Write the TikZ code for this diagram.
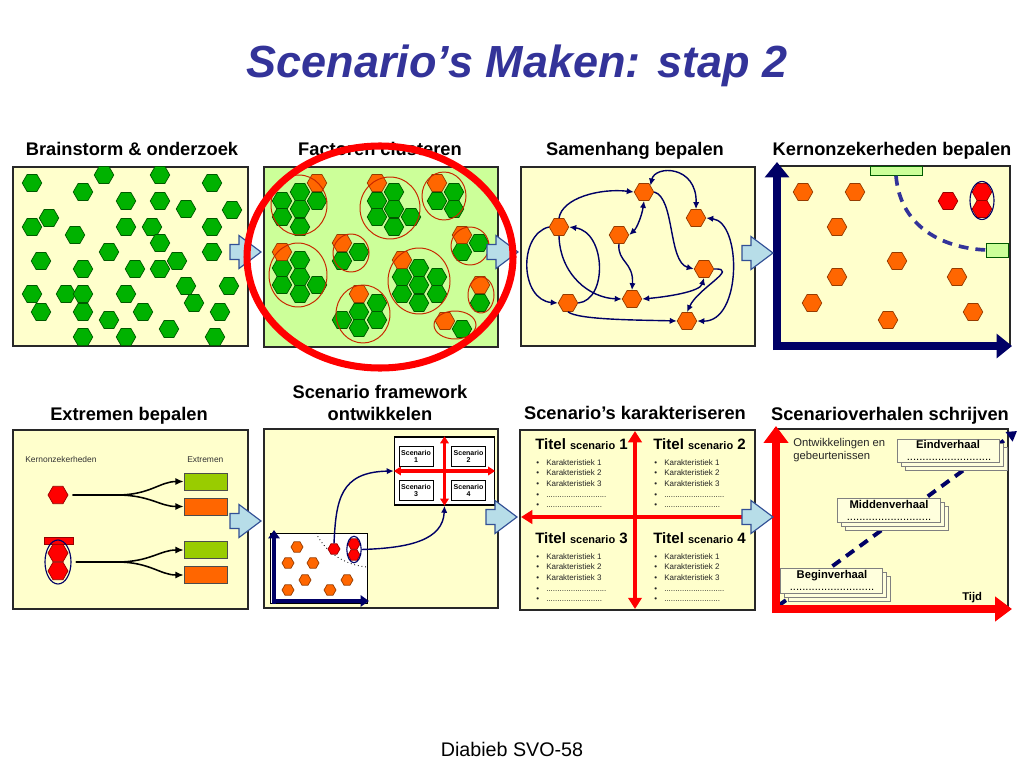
\documentclass[tikz,border=0pt]{standalone}
\usepackage{fontspec}
\setmainfont{Liberation Sans}
\usetikzlibrary{shapes.geometric,arrows.meta}

\definecolor{titleblue}{RGB}{51,51,153}
\definecolor{paneyellow}{RGB}{255,255,204}
\definecolor{panegreen}{RGB}{204,255,153}
\definecolor{panelline}{RGB}{40,40,40}
\definecolor{hexgreen}{RGB}{0,178,0}
\definecolor{hexgreenline}{RGB}{0,90,0}
\definecolor{hexorange}{RGB}{255,102,0}
\definecolor{hexorangeline}{RGB}{150,60,0}
\definecolor{hexredline}{RGB}{150,0,0}
\definecolor{axnavy}{RGB}{0,0,102}
\definecolor{slateblue}{RGB}{51,51,153}
\definecolor{clusred}{RGB}{200,40,0}
\definecolor{extgreen}{RGB}{153,204,0}
\definecolor{arrowfill}{RGB}{183,221,232}
\definecolor{arrowline}{RGB}{50,80,150}
\definecolor{stackfill}{RGB}{255,255,221}

\tikzset{
  hexa/.style={regular polygon, regular polygon sides=6, minimum size=0.49cm, inner sep=0pt, line width=0.5pt},
  hexg/.style={hexa, fill=hexgreen, draw=hexgreenline},
  hexo/.style={hexa, fill=hexorange, draw=hexorangeline},
  hexr/.style={hexa, fill=red, draw=hexredline},
  hexs/.style={minimum size=0.3cm},
  panel/.style={draw=panelline, line width=1pt},
  ptitle/.style={font=\fontsize{13}{15}\selectfont\bfseries, inner sep=0pt},
  clus/.style={draw=clusred, line width=0.7pt},
  link/.style={draw=axnavy, line width=1pt, -{Latex[length=5pt,width=4.5pt]}},
  link2/.style={draw=axnavy, line width=1pt, {Latex[length=5pt,width=4.5pt]}-{Latex[length=5pt,width=4.5pt]}},
  fork/.style={draw=black, line width=1.1pt, shorten <=3pt, -{Latex[length=6pt,width=5pt]}},
  bignavy/.style={draw=axnavy, line width=5.7pt, -{Triangle[length=11pt,width=17pt]}},
  bigred/.style={draw=red, line width=5pt, -{Triangle[length=12pt,width=17pt]}},
  redcross/.style={draw=red, line width=3.3pt, {Triangle[length=8pt,width=9.5pt]}-{Triangle[length=8pt,width=9.5pt]}},
  barrow/.style={draw=arrowline, fill=arrowfill, line width=0.8pt},
  extbox/.style={minimum width=1.075cm, minimum height=0.425cm, inner sep=0pt, draw=gray!60!black, line width=0.3pt},
  small/.style={font=\fontsize{6}{7}\selectfont, inner sep=0pt, text=black!80},
  scen/.style={draw=black, fill=white, line width=0.5pt, minimum width=0.85cm, minimum height=0.5cm, inner sep=0pt, align=center, font=\fontsize{5}{5.6}\selectfont\bfseries},
  titel/.style={font=\fontsize{10.7}{12}\selectfont\bfseries, inner sep=0pt},
  kar/.style={font=\fontsize{5.7}{7}\selectfont, inner sep=0pt, text=black!85},
  verhaal/.style={font=\fontsize{8}{9.5}\selectfont, inner sep=0pt},
}

% blokpijl tussen de panelen
\newcommand{\blockarrow}[2]{%
  \draw[barrow] (#1,#2-7.5) -- (#1+9,#2-7.5) -- (#1+9,#2-16.5) -- (#1+31,#2) -- (#1+9,#2+16.5) -- (#1+9,#2+7.5) -- (#1,#2+7.5) -- cycle;}
% gestapelde verhaalkaart
\newcommand{\stackbox}[4]{%
  \foreach \d in {8,4,0}{\draw[draw=gray, fill=stackfill, line width=0.5pt] (#1+\d,#2+\d) rectangle (#3+\d,#4+\d);}}
% stippellijnen
\newcommand{\puntlang}{...........................}
\newcommand{\puntkort}{.........................}

\begin{document}
\begin{tikzpicture}[x=0.025cm, y=-0.025cm]
\useasboundingbox[fill=white] (0,0) rectangle (1024,768);

% titel
\node[anchor=base, text=titleblue, font=\fontsize{32}{36}\selectfont\bfseries\itshape, inner sep=0pt] (kop) at (517,78) {Scenario’s Maken: stap 2};
\node[anchor=base, font=\fontsize{14}{16}\selectfont, inner sep=0pt] (voet) at (512,756) {Diabieb SVO-58};

% ---------- rij 1 ----------
\node[ptitle, anchor=base] (t1) at (132,156) {Brainstorm \& onderzoek};
\node[ptitle, anchor=base] (t2) at (380,156) {Factoren clusteren};
\node[ptitle, anchor=base] (t3) at (635,156) {Samenhang bepalen};
\node[ptitle, anchor=base] (t4) at (892,156) {Kernonzekerheden bepalen};

% paneel 1 : brainstorm
\draw[panel, fill=paneyellow] (13,167) rectangle (248,346);
\foreach \p [count=\i] in {(32,183),(104,175),(160,175),(212,183),(83,192),(126,201),(160,201),(186,209),(232,210),
  (49,218),(32,227),(75,235),(126,227),(152,227),(212,227),(160,243),(109,252),(212,252),(41,261),(83,269),
  (135,269),(160,269),(177,261),(186,286),(229,286),(32,294),(66,294),(83,294),(126,294),(41,312),(83,312),
  (143,312),(194,303),(109,320),(220,312),(169,329),(83,337),(126,337),(215,337)}
  \node[hexg] (b\i) at \p {};

% paneel 2 : clusters
\draw[panel, fill=panegreen] (264,167) rectangle (498,347);
\foreach \p [count=\i] in {(282,201),(300,192),(317,201),(282,217),(300,209),(300,227),
  (394,192),(377,201),(394,209),(377,217),(411,217),(394,227),
  (454,192),(437,201),(454,209),
  (479,243),(462,252),
  (300,260),(282,268),(300,277),(282,285),(317,285),(300,294),
  (359,252),(342,261),
  (419,268),(402,277),(437,277),(419,285),(402,294),(437,294),(419,303),
  (377,303),(359,312),(342,320),(377,320),(359,328),
  (480,303),(462,329)}
  \node[hexg] (cg\i) at \p {};
\foreach \p [count=\i] in {(317,183),(377,183),(437,183),(462,235),(282,252),(342,243),(402,260),(359,294),(480,285),(445,321)}
  \node[hexo] (co\i) at \p {};
\draw[clus] (299,205) ellipse [x radius=28, y radius=30];
\draw[clus] (390,208) ellipse [x radius=30, y radius=31];
\draw[clus] (444,196) ellipse [x radius=22, y radius=24];
\draw[clus] (470,246) ellipse [x radius=19, y radius=19];
\draw[clus] (298,275) ellipse [x radius=29, y radius=32];
\draw[clus] (351,253) ellipse [x radius=18, y radius=19];
\draw[clus] (419,281) ellipse [x radius=31, y radius=33];
\draw[clus] (363,314) ellipse [x radius=27, y radius=29];
\draw[clus] (481,295) ellipse [x radius=13, y radius=18];
\draw[clus] (455,325) ellipse [x radius=21, y radius=14];

% paneel 3 : samenhang
\draw[panel, fill=paneyellow] (521,167) rectangle (755,346);
\node[hexo] (f1) at (644,192) {};
\node[hexo] (f2) at (696,218) {};
\node[hexo] (f3) at (559,227) {};
\node[hexo] (f4) at (619,235) {};
\node[hexo] (f5) at (704,269) {};
\node[hexo] (f6) at (568,303) {};
\node[hexo] (f7) at (632,299) {};
\node[hexo] (f8) at (687,321) {};
\draw[link] (f3.north) .. controls (562,198) and (600,188) .. (f1.west);
\draw[link2] (f1.south) .. controls (642,215) and (637,228) .. (f4.east);
\draw[link2] (f1.north east) .. controls (655,165) and (697,165) .. (f2.north);
\draw[link] (f1.east) .. controls (675,198) and (668,262) .. (f5.west);
\draw[link] (f3.west) .. controls (518,235) and (520,300) .. (f6.west);
\draw[link] (f6.east) .. controls (608,300) and (606,232) .. (f3.east);
\draw[link] (f3.south) .. controls (560,275) and (590,298) .. (f7.west);
\draw[link] (f4.south) .. controls (617,262) and (634,262) .. (f7.north);
\draw[link2] (f7.east) .. controls (665,297) and (700,292) .. (f5.south);
\draw[link] (f6.south) .. controls (578,320) and (640,320) .. (f8.west);
\draw[link] (f5.east) .. controls (740,268) and (698,288) .. (f8.north);
\draw[link2] (f2.east) .. controls (742,222) and (742,322) .. (f8.east);

% paneel 4 : kernonzekerheden
\draw[panel, fill=paneyellow] (780,166) rectangle (1010,345);
\foreach \p [count=\i] in {(803,192),(855,192),(837,227),(897,261),(837,277),(957,277),(812,303),(888,320),(973,312)}
  \node[hexo] (k\i) at \p {};
\node[hexr] (kr1) at (948,201) {};
\node[hexr] (kr2) at (982,192) {};
\node[hexr] (kr3) at (982,209) {};
\node[ellipse, draw=axnavy, line width=0.8pt, minimum width=0.6cm, minimum height=0.95cm, inner sep=0pt] (kpaar) at (982,200.5) {};
\node[draw=hexgreenline, fill=panegreen, line width=0.6pt, minimum width=1.3cm, minimum height=0.22cm, inner sep=0pt] (as1) at (896,171) {};
\node[draw=hexgreenline, fill=panegreen, line width=0.6pt, minimum width=0.53cm, minimum height=0.35cm, inner sep=0pt] (as2) at (997.5,250) {};
\draw[slateblue, line width=2.6pt, dash pattern=on 7pt off 5pt] (as1.south) .. controls (900,225) and (940,248) .. (as2.west);
\draw[bignavy] (777,350) -- (777,162);
\draw[bignavy] (773,346) -- (1012,346);

% ---------- rij 2 ----------
\node[ptitle, anchor=base] (t5) at (129,420) {Extremen bepalen};
\node[ptitle, anchor=base] (t6a) at (380,398) {Scenario framework};
\node[ptitle, anchor=base] (t6b) at (380,420) {ontwikkelen};
\node[ptitle, anchor=base] (t7) at (635,419) {Scenario’s karakteriseren};
\node[ptitle, anchor=base] (t8) at (890,420) {Scenarioverhalen schrijven};

% paneel 5 : extremen
\draw[panel, fill=paneyellow] (13,430) rectangle (248,609);
\node[small, anchor=base west] (lk) at (25,462) {Kernonzekerheden};
\node[small, anchor=base west] (le) at (187,462) {Extremen};
\node[hexr, minimum size=0.5cm] (x1) at (58,495) {};
\draw[fill=red, draw=hexredline, line width=0.5pt] (44,537) rectangle (73,544);
\node[hexr, minimum size=0.5cm] (x2) at (58,553) {};
\node[hexr, minimum size=0.5cm] (x3) at (58,571) {};
\node[ellipse, draw=axnavy, line width=0.8pt, minimum width=0.65cm, minimum height=1.1cm, inner sep=0pt] (xpaar) at (58,562) {};
\node[extbox, fill=extgreen] (e1) at (205.5,481.5) {};
\node[extbox, fill=hexorange] (e2) at (205.5,506.5) {};
\node[extbox, fill=extgreen] (e3) at (205.5,550) {};
\node[extbox, fill=hexorange] (e4) at (205.5,575) {};
\draw[fork] (x1.east) -- (117,495) .. controls (150,495) and (160,481.5) .. (e1.west);
\draw[fork] (x1.east) -- (117,495) .. controls (150,495) and (160,506.5) .. (e2.west);
\draw[fork] (xpaar.east) -- (117,562) .. controls (150,562) and (160,550) .. (e3.west);
\draw[fork] (xpaar.east) -- (117,562) .. controls (150,562) and (160,575) .. (e4.west);

% paneel 6 : framework
\draw[panel, fill=paneyellow] (264,429) rectangle (498,608);
\draw[draw=black, fill=white, line width=0.6pt] (270,533) rectangle (367,603);
\draw[dotted, line width=0.6pt] (316,533) .. controls (326,553) and (345,565) .. (367,567);
\foreach \p [count=\i] in {(297,547),(288,563),(313,563),(305,580),(347,580),(288,590),(330,590)}
  \node[hexo, hexs] (m\i) at \p {};
\node[hexr, hexs] (mr) at (334,549) {};
\node[hexr, hexs] (mp1) at (354,544) {};
\node[hexr, hexs] (mp2) at (354,555) {};
\node[ellipse, draw=axnavy, line width=0.8pt, minimum width=0.36cm, minimum height=0.66cm, inner sep=0pt] (mpaar) at (354,549.5) {};
\draw[draw=axnavy, line width=2.8pt, -{Triangle[length=6pt,width=8pt]}] (274,604) -- (274,530);
\draw[draw=axnavy, line width=2.8pt, -{Triangle[length=6pt,width=8pt]}] (272,601) -- (369,601);
\node[draw=black, fill=white, line width=1pt, minimum width=2.5cm, minimum height=1.7cm, inner sep=0pt] (sbox) at (444.5,471) {};
\node[scen] (s1) at (416,456.5) {Scenario\\1};
\node[scen] (s2) at (468.5,456.5) {Scenario\\2};
\node[scen] (s3) at (416,490.5) {Scenario\\3};
\node[scen] (s4) at (468.5,490.5) {Scenario\\4};
\draw[draw=red, line width=2.2pt, {Triangle[length=5pt,width=6pt]}-{Triangle[length=5pt,width=6pt]}] (sbox.west) -- (sbox.east);
\draw[draw=red, line width=2.2pt, {Triangle[length=5pt,width=6pt]}-{Triangle[length=5pt,width=6pt]}] (sbox.north) -- (sbox.south);
\draw[link] (mr.north) .. controls (336,500) and (340,472) .. (sbox.west);
\draw[link] (mpaar.east) .. controls (410,548) and (443,540) .. (sbox.south);

% paneel 7 : karakteriseren
\draw[panel, fill=paneyellow] (520,430) rectangle (755,610);
\draw[redcross] (635,431) -- (635,609);
\draw[redcross] (521,517) -- (756,517);
\foreach \cx/\cy/\k in {535/449/1,653/449/2,535/543/3,653/543/4}{
  \node[titel, anchor=base west] (ts\k) at (\cx,\cy) {Titel {\fontsize{7.8}{9}\selectfont scenario} \k};
  \foreach \regel [count=\j] in {Karakteristiek 1,Karakteristiek 2,Karakteristiek 3,\puntlang,\puntkort}{
    \node[kar, anchor=base west] (kb\k\j) at (\cx+1,\cy+5.3+10.7*\j) {•};
    \node[kar, anchor=base west] (kt\k\j) at (\cx+11,\cy+5.3+10.7*\j) {\regel};
  }
}

% paneel 8 : verhalen
\draw[panel, fill=paneyellow] (775,429) rectangle (1008,610);
\node[verhaal, anchor=base west, text=black!85] (ow1) at (793,446) {Ontwikkelingen en};
\node[verhaal, anchor=base west, text=black!85] (ow2) at (793,459) {gebeurtenissen};
\draw[axnavy, line width=2.8pt, dash pattern=on 7pt off 5pt, -{Triangle[length=7pt,width=8pt]}] (778,606) -- (1017,431);
\stackbox{897}{439}{999}{462}
\stackbox{837}{498}{940}{522}
\stackbox{780}{568}{882}{593}
\node[verhaal, font=\fontsize{8}{9.5}\selectfont\bfseries, anchor=base] (v3) at (948,448) {Eindverhaal};
\node[verhaal, anchor=base] (d3) at (949,460) {\puntlang};
\node[verhaal, font=\fontsize{8}{9.5}\selectfont\bfseries, anchor=base] (v2) at (889,508) {Middenverhaal};
\node[verhaal, anchor=base] (d2) at (889,520) {\puntlang};
\node[verhaal, font=\fontsize{8}{9.5}\selectfont\bfseries, anchor=base] (v1) at (832,578) {Beginverhaal};
\node[verhaal, anchor=base] (d1) at (832,590) {\puntlang};
\node[verhaal, font=\fontsize{8}{9.5}\selectfont\bfseries, anchor=base west] (tijd) at (962,600) {Tijd};
\draw[bigred] (776,613) -- (776,426);
\draw[bigred] (772,609) -- (1012,609);

% pijlen tussen de panelen
\blockarrow{230}{252}
\blockarrow{487}{252}
\blockarrow{742}{253}
\blockarrow{230}{521}
\blockarrow{486}{517}
\blockarrow{742}{517}

% rode ellips om stap 2
\draw[red, line width=5pt] (380,257) ellipse [x radius=133, y radius=111];
\end{tikzpicture}
\end{document}
